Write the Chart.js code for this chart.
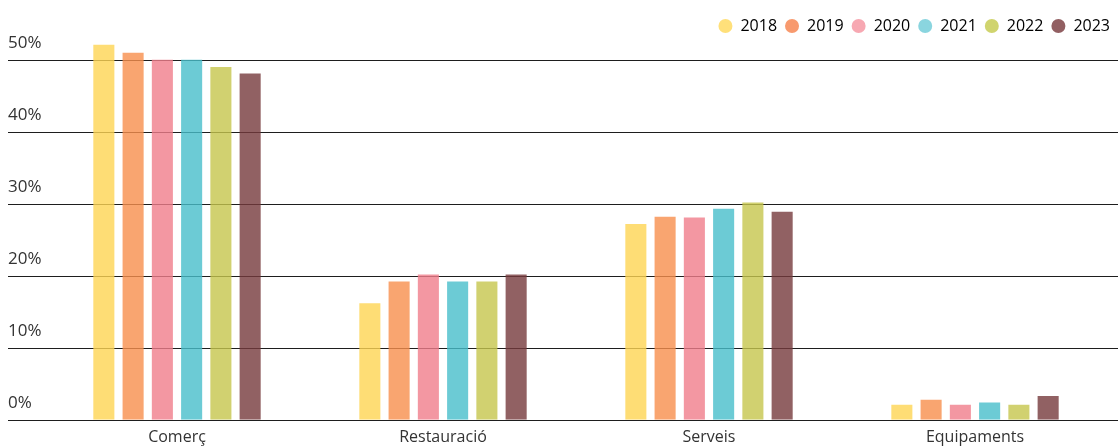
<!DOCTYPE html>
<html>
<head>
<meta charset="utf-8">
<script src="https://cdn.jsdelivr.net/npm/chart.js@4"></script>
<style>
  html, body { margin: 0; padding: 0; background: #fff; }
  #wrap { width: 1118px; height: 447px; }
</style>
</head>
<body>
<div id="wrap"><canvas id="chart"></canvas></div>
<script>
// ========================================
// Data
// ========================================
const categories = ['Comerç', 'Restauració', 'Serveis', 'Equipaments'];
const years = ['2018', '2019', '2020', '2021', '2022', '2023'];

const values2018 = [52.1, 16.2, 27.2, 2.1];
const values2019 = [51.0, 19.2, 28.2, 2.8];
const values2020 = [50.0, 20.2, 28.1, 2.1];
const values2021 = [50.0, 19.2, 29.3, 2.4];
const values2022 = [49.0, 19.2, 30.2, 2.1];
const values2023 = [48.1, 20.2, 28.9, 3.3];

const yTicks = [0, 10, 20, 30, 40, 50];

// bar fill colours (slightly transparent so the grid shows through)
const barColors = [
  'rgba(254, 213, 83, 0.8)',
  'rgba(247, 142, 76, 0.8)',
  'rgba(240, 125, 139, 0.8)',
  'rgba(71, 190, 203, 0.8)',
  'rgba(197, 197, 76, 0.8)',
  'rgba(118, 58, 60, 0.8)'
];
const legendColors = ['#FFE07A', '#F89A6E', '#F7A8B2', '#8AD5DF', '#D0D46E', '#925F62'];

const seriesValues = [values2018, values2019, values2020, values2021, values2022, values2023];

// ========================================
// Full-width grid lines + tick labels above them
// ========================================
const fullGrid = {
  id: 'fullGrid',
  beforeDatasetsDraw(chart) {
    const ctx = chart.ctx;
    const y = chart.scales.y;
    ctx.save();
    ctx.strokeStyle = '#1e1e1e';
    ctx.lineWidth = 1.2;
    ctx.fillStyle = '#333';
    ctx.font = '17px "Open Sans"';
    ctx.textAlign = 'left';
    ctx.textBaseline = 'middle';
    yTicks.forEach(v => {
      const py = Math.round(y.getPixelForValue(v)) + 0.5;
      ctx.beginPath();
      ctx.moveTo(8, py);
      ctx.lineTo(chart.width, py);
      ctx.stroke();
      ctx.fillText(v + '%', 8, py - 17);
    });
    ctx.restore();
  }
};

const ctx = document.getElementById('chart');

new Chart(ctx, {
  type: 'bar',
  data: {
    labels: categories,
    datasets: years.map((yr, i) => ({
      label: yr,
      data: seriesValues[i],
      backgroundColor: barColors[i],
      borderWidth: 0,
      categoryPercentage: 0.66,
      barPercentage: 0.72
    }))
  },
  options: {
    responsive: true,
    maintainAspectRatio: false,
    animation: false,
    layout: {
      padding: { left: 44, right: 0, top: 10, bottom: -8 }
    },
    plugins: {
      tooltip: { enabled: false },
      legend: {
        position: 'top',
        align: 'end',
        labels: {
          usePointStyle: true,
          pointStyle: 'circle',
          boxWidth: 10,
          boxHeight: 10,
          pointStyleWidth: 14,
          padding: 8,
          color: '#333',
          font: { family: 'Open Sans', size: 16 },
          generateLabels(chart) {
            return years.map((yr, i) => ({
              text: yr,
              fillStyle: legendColors[i],
              strokeStyle: legendColors[i],
              lineWidth: 0,
              pointStyle: 'circle',
              datasetIndex: i
            }));
          }
        }
      }
    },
    scales: {
      x: {
        grid: { display: false, drawTicks: false },
        border: { display: false },
        ticks: {
          color: '#333',
          padding: 8,
          font: { family: 'Open Sans', size: 16 }
        }
      },
      y: {
        min: 0,
        max: 52.2,
        afterBuildTicks(axis) {
          axis.ticks = yTicks.map(v => ({ value: v }));
        },
        grid: { display: false, drawTicks: false },
        border: { display: false },
        ticks: { display: false }
      },
      yRight: {
        position: 'right',
        display: true,
        grid: { display: false, drawTicks: false },
        border: { display: false },
        ticks: { display: false },
        afterFit(axis) { axis.width = 10; }
      }
    }
  },
  plugins: [fullGrid]
});
</script>
</body>
</html>
